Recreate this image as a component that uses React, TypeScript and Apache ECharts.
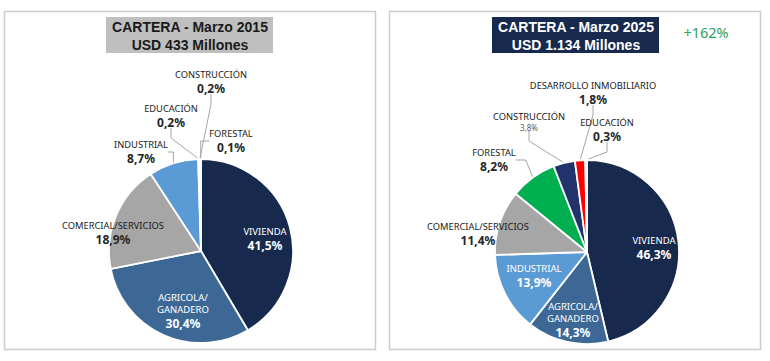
import React, { useEffect, useRef } from "react";
import * as echarts from "echarts";

// ---- Data ----
const cats2015 = ["VIVIENDA", "AGRICOLA/\nGANADERO", "COMERCIAL/SERVICIOS", "INDUSTRIAL", "EDUCACIÓN", "CONSTRUCCIÓN", "FORESTAL"];
const vals2015 = [41.5, 30.4, 18.9, 8.7, 0.2, 0.2, 0.1];
const cats2025 = ["VIVIENDA", "AGRICOLA/\nGANADERO", "INDUSTRIAL", "COMERCIAL/SERVICIOS", "FORESTAL", "CONSTRUCCIÓN", "DESARROLLO INMOBILIARIO", "EDUCACIÓN"];
const vals2025 = [46.3, 14.3, 13.9, 11.4, 8.2, 3.8, 1.8, 0.3];
const title2015 = ["CARTERA - Marzo 2015", "USD 433 Millones"];
const title2025 = ["CARTERA - Marzo 2025", "USD 1.134 Millones"];
const growth = "+162%";

// ---- Styles / layout ----
const colors2015 = ["#17294d", "#3d6896", "#a6a6a6", "#5b9bd5", "#ff0000", "#203864", "#00b050"];
const colors2025 = ["#17294d", "#3d6896", "#5b9bd5", "#a6a6a6", "#00b050", "#22336b", "#ff0000", "#c00000"];
const inside2015 = [true, true, false, false, false, false, false];
const inside2025 = [true, true, true, false, false, false, false, false];
const noLine2015 = [true, true, true, false, false, false, false];
const noLine2025 = [true, true, true, true, false, false, false, false];
const small2025 = [false, false, false, false, false, true, false, false];
const labelPos2015 = [[265, 239], [183, 311], [113, 233], [141, 152], [171, 116], [211, 82], [231, 141]];
const labelPos2025 = [[654, 248], [573, 320], [534, 276], [478, 234], [494, 160], [529, 121], [593, 93], [607, 130]];

const fmt = (v: number) => v.toFixed(1).replace(".", ",") + "%";

function makeSeries(cats: string[], vals: number[], colors: string[], inside: boolean[], noLine: boolean[], small: boolean[] | null, pos: number[][], center: string[]) {
  return {
    type: "pie",
    center,
    radius: 92,
    startAngle: 90,
    clockwise: true,
    avoidLabelOverlap: false,
    itemStyle: { borderColor: "#ffffff", borderWidth: 1.8 },
    emphasis: { disabled: true },
    labelLine: { show: true, lineStyle: { color: "#a6a6a6", width: 1 }, length: 10, length2: 10 },
    labelLayout: (p: any) => ({ x: pos[p.dataIndex][0], y: pos[p.dataIndex][1], align: "center", verticalAlign: "middle" }),
    data: vals.map((v, i) => {
      const inn = inside[i];
      const sm = small ? small[i] : false;
      const nameKey = inn ? "ni" : "no";
      const valKey = inn ? "vi" : sm ? "vs" : "vo";
      const name = cats[i].split("\n").map((s) => `{${nameKey}|${s}}`).join("\n");
      return {
        name: cats[i],
        value: v,
        itemStyle: { color: colors[i] },
        labelLine: { show: !noLine[i] },
        label: {
          show: true,
          position: inn ? "inside" : "outside",
          formatter: `${name}\n{${valKey}|${fmt(v)}}`,
          align: "center",
          rich: {
            ni: { color: "#ffffff", fontFamily: "Noto Sans", fontSize: 9.5, lineHeight: 12.5, align: "center" },
            no: { color: "#1a1a1a", fontFamily: "Noto Sans", fontSize: 9.3, lineHeight: 12, align: "center" },
            vi: { color: "#ffffff", fontFamily: "Noto Sans", fontSize: 12, fontWeight: "bold", lineHeight: 15, align: "center" },
            vo: { color: "#262626", fontFamily: "Noto Sans", fontSize: 12, fontWeight: "bold", lineHeight: 15, align: "center" },
            vs: { color: "#595959", fontFamily: "Noto Sans", fontSize: 8, lineHeight: 10, align: "center" },
          },
        },
      };
    }),
  };
}

export default function App() {
  const ref = useRef<HTMLDivElement>(null);
  useEffect(() => {
    document.body.style.margin = "0";
    const chart = echarts.init(ref.current!, undefined, { renderer: "svg" });
    const titleLine = (text: string, x: number, y: number, color: string) => ({
      type: "text",
      x,
      y,
      style: {
        text,
        fill: color,
        font: "bold 14px 'Liberation Sans'",
        lineHeight: 16,
        align: "center",
        verticalAlign: "middle",
      },
      z: 10,
    });
    chart.setOption({
      animation: false,
      backgroundColor: "#ffffff",
      graphic: [
        { type: "rect", shape: { x: 4.5, y: 11.5, width: 371, height: 338 }, style: { fill: "none", stroke: "#cccccc", lineWidth: 1.5 } },
        { type: "rect", shape: { x: 389.5, y: 11.5, width: 371, height: 338 }, style: { fill: "none", stroke: "#cccccc", lineWidth: 1.5 } },
        { type: "rect", shape: { x: 106, y: 17, width: 167, height: 36 }, style: { fill: "#bfbfbf" } },
        { type: "rect", shape: { x: 492, y: 17, width: 167, height: 36 }, style: { fill: "#17294d" } },
        titleLine(title2015[0], 190, 26.5, "#1a1a1a"),
        titleLine(title2015[1], 190, 44.5, "#1a1a1a"),
        titleLine(title2025[0], 576, 26.5, "#ffffff"),
        titleLine(title2025[1], 576, 44.5, "#ffffff"),
        {
          type: "text", x: 706, y: 32,
          style: { text: growth, fill: "#2ea25e", font: "14.5px 'Noto Sans'", align: "center", verticalAlign: "middle" },
        },
      ],
      series: [
        makeSeries(cats2015, vals2015, colors2015, inside2015, noLine2015, null, labelPos2015, ["201", "251"]),
        makeSeries(cats2025, vals2025, colors2025, inside2025, noLine2025, small2025, labelPos2025, ["587", "252"]),
      ],
    });
    return () => chart.dispose();
  }, []);
  return <div ref={ref} style={{ position: "fixed", left: 0, top: 0, width: 770, height: 361 }} />;
}
